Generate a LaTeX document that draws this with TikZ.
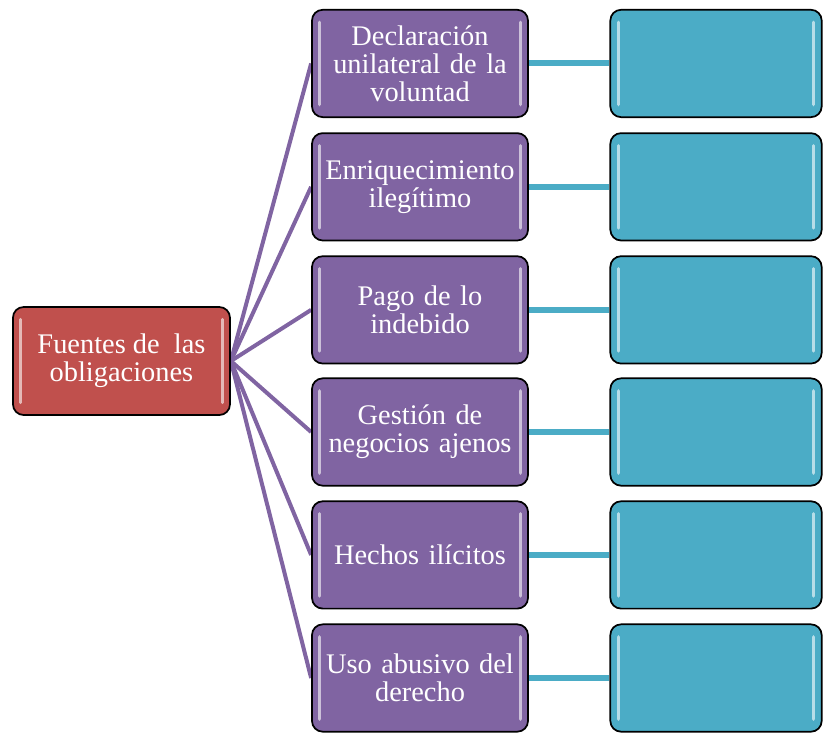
\documentclass[tikz,border=0pt]{standalone}
\usepackage{fontspec}
\setmainfont{Liberation Serif}
\pgfdeclarelayer{background}
\pgfsetlayers{background,main}
\definecolor{redbox}{HTML}{C0504D}
\definecolor{purplebox}{HTML}{8064A2}
\definecolor{bluebox}{HTML}{4BACC6}
\tikzset{
  basebox/.style={rectangle, rounded corners=8pt, draw=black, line width=1.3pt,
    text=white, align=center, inner sep=1pt, font=\fontsize{21.3pt}{21pt}\selectfont},
  rootbox/.style={basebox, fill=redbox, minimum width=162.75pt, minimum height=81pt},
  srcbox/.style={basebox, fill=purplebox, minimum width=162pt, minimum height=80.5pt, text width=158pt},
  emptybox/.style={basebox, fill=bluebox, minimum width=158.5pt, minimum height=80.5pt},
  plink/.style={draw=purplebox, line width=3pt},
  blink/.style={draw=bluebox, line width=4.5pt},
  hl/.style={draw=white, opacity=0.6, line width=2.4pt, line cap=round}
}
\newcommand{\glossy}[1]{%
  \draw[hl] ([xshift=6.5pt,yshift=-10pt]#1.north west) -- ([xshift=6.5pt,yshift=10pt]#1.south west);
  \draw[hl] ([xshift=-6.5pt,yshift=-10pt]#1.north east) -- ([xshift=-6.5pt,yshift=10pt]#1.south east);
}
\begin{document}
\begin{tikzpicture}
\useasboundingbox (0,0) rectangle (617.25pt,-549.75pt);
\node[rootbox] (root) at (91.1pt,-270.75pt) {Fuentes de~ las\\obligaciones};
\node[srcbox] (s1) at (315pt,-47.6pt) {Declaración\\unilateral de la\\voluntad};
\node[srcbox] (s2) at (315pt,-140.1pt) {Enriquecimiento\\ilegítimo};
\node[srcbox] (s3) at (315pt,-232.4pt) {Pago de lo\\indebido};
\node[srcbox] (s4) at (315pt,-324pt) {Gestión de\\negocios ajenos};
\node[srcbox] (s5) at (315pt,-416.2pt) {Hechos ilícitos};
\node[srcbox] (s6) at (315pt,-508.5pt) {Uso abusivo del\\derecho};
\node[emptybox] (e1) at (537pt,-47.6pt) {};
\node[emptybox] (e2) at (537pt,-140.1pt) {};
\node[emptybox] (e3) at (537pt,-232.4pt) {};
\node[emptybox] (e4) at (537pt,-324pt) {};
\node[emptybox] (e5) at (537pt,-416.2pt) {};
\node[emptybox] (e6) at (537pt,-508.5pt) {};
\foreach \n in {root,s1,s2,s3,s4,s5,s6,e1,e2,e3,e4,e5,e6}{\glossy{\n}}
\begin{pgfonlayer}{background}
\foreach \i in {1,...,6}{
  \draw[plink] (root.east) -- (s\i.west);
  \draw[blink] (s\i.east) -- (e\i.west);
}
\end{pgfonlayer}
\end{tikzpicture}
\end{document}
